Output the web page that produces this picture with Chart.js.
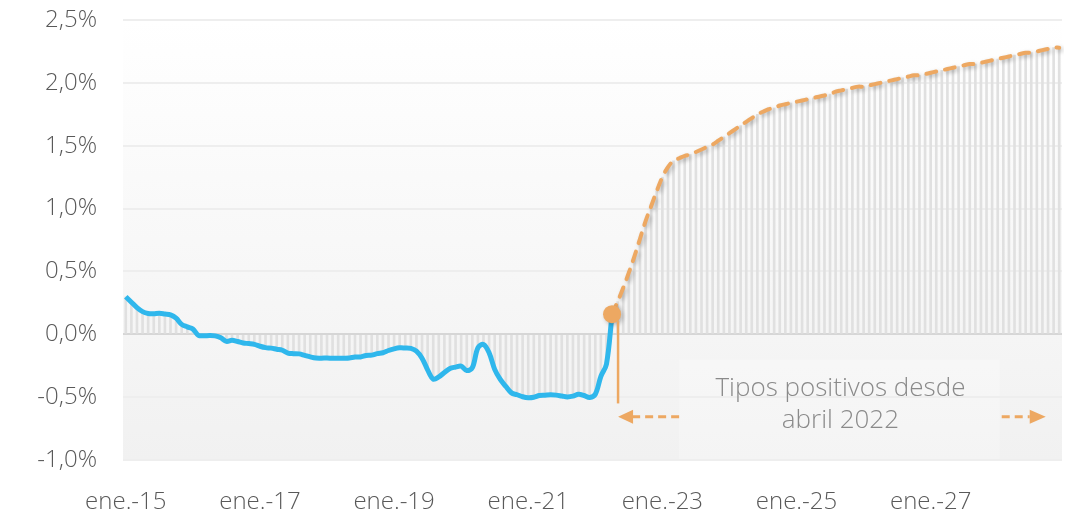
<!DOCTYPE html>
<html>
<head>
<meta charset="utf-8">
<script src="https://cdn.jsdelivr.net/npm/chart.js@4"></script>
<style>
  body { margin: 0; background: #fff; }
  #wrap { width: 1074px; height: 512px; }
</style>
</head>
<body>
<div id="wrap"><canvas id="myChart"></canvas></div>
<script>
// euribor-like series, monthly from ene.-15
const monthNames = ['ene.', 'feb.', 'mar.', 'abr.', 'may.', 'jun.', 'jul.', 'ago.', 'sept.', 'oct.', 'nov.', 'dic.'];
const firstYear = 2015;
const lastYear = 2028;

// ene.-15 .. abr.-22
const historico = [
    0.298, 0.255, 0.212, 0.180, 0.165, 0.163, 0.167, 0.161, 0.154, 0.128, 0.079, 0.059,
    0.042, -0.008, -0.012, -0.010, -0.013, -0.028, -0.056, -0.048, -0.057, -0.069, -0.074, -0.080,
    -0.095, -0.106, -0.110, -0.119, -0.127, -0.149, -0.154, -0.156, -0.168, -0.180, -0.189, -0.190,
    -0.189, -0.191, -0.191, -0.190, -0.188, -0.181, -0.180, -0.169, -0.166, -0.154, -0.147, -0.129,
    -0.116, -0.108, -0.109, -0.112, -0.134, -0.190, -0.283, -0.356, -0.339, -0.304, -0.272, -0.261,
    -0.253, -0.288, -0.266, -0.108, -0.081, -0.147, -0.279, -0.359, -0.415, -0.466, -0.481, -0.497,
    -0.505, -0.501, -0.487, -0.484, -0.481, -0.484, -0.491, -0.498, -0.492, -0.477, -0.487, -0.502,
    -0.477, -0.335, -0.237, 0.16
];

// abr.-22 .. dic.-28
const prevision = [
    0.16, 0.26, 0.37, 0.49, 0.62, 0.76, 0.90, 1.02, 1.14, 1.25, 1.33, 1.38,
    1.40, 1.42, 1.43, 1.45, 1.47, 1.49, 1.51, 1.54, 1.57, 1.60, 1.63, 1.66,
    1.69, 1.72, 1.75, 1.77, 1.79, 1.80, 1.82, 1.83, 1.84, 1.85, 1.86, 1.87,
    1.88, 1.89, 1.90, 1.91, 1.93, 1.94, 1.95, 1.96, 1.97, 1.97, 1.98, 1.99,
    2.00, 2.01, 2.02, 2.03, 2.04, 2.05, 2.06, 2.06, 2.07, 2.08, 2.09, 2.10,
    2.11, 2.12, 2.13, 2.14, 2.15, 2.15, 2.16, 2.17, 2.18, 2.19, 2.20, 2.21,
    2.22, 2.23, 2.24, 2.24, 2.25, 2.26, 2.27, 2.28, 2.28
];

const yTicks = [-1.0, -0.5, 0.0, 0.5, 1.0, 1.5, 2.0, 2.5];
const annotText = ['Tipos positivos desde', 'abril 2022'];

var labels = [];
for (var y = firstYear; y <= lastYear; y++) {
    for (var m = 0; m < 12; m++) labels.push(monthNames[m] + '-' + String(y).slice(2));
}
const splitIdx = historico.length - 1; // abr.-22
const barras = historico.slice(0, splitIdx).concat(prevision);
const lineaHist = historico.concat(Array(labels.length - historico.length).fill(null));
const lineaPrev = Array(splitIdx).fill(null).concat(prevision);

const FONT = "'Open Sans', 'Segoe UI', sans-serif";
const ORANGE = '#eda862';

const fondo = {
    id: 'fondo',
    beforeDraw(chart) {
        const a = chart.chartArea, c = chart.ctx;
        const g = c.createLinearGradient(0, a.top, 0, a.bottom);
        g.addColorStop(0, '#ffffff');
        g.addColorStop(1, '#f1f1f1');
        c.save();
        c.fillStyle = g;
        c.fillRect(a.left, a.top, a.right - a.left, a.bottom - a.top);
        // caja del texto
        const xs = chart.scales.x, ys = chart.scales.y;
        const x0 = xs.getPixelForValue(99), x1 = xs.getPixelForValue(156) + 2;
        const yt = ys.getPixelForValue(-0.2);
        c.fillStyle = 'rgba(255,255,255,0.25)';
        c.fillRect(x0, yt, x1 - x0, a.bottom - yt);
        c.restore();
    }
};

const anotacion = {
    id: 'anotacion',
    beforeDatasetDraw(chart, args) {
        if (args.index === 1) {
            const c = chart.ctx;
            c.save();
            c.shadowColor = 'rgba(0,0,0,0.25)';
            c.shadowBlur = 4;
            c.shadowOffsetX = 2;
            c.shadowOffsetY = 2;
        }
    },
    afterDatasetDraw(chart, args) {
        if (args.index === 1) chart.ctx.restore();
    },
    afterDatasetsDraw(chart) {
        const c = chart.ctx, xs = chart.scales.x, ys = chart.scales.y;
        const xd = xs.getPixelForValue(splitIdx);
        const ya = ys.getPixelForValue(-0.656);
        c.save();
        // linea vertical
        c.strokeStyle = ORANGE;
        c.lineWidth = 2.5;
        c.beginPath();
        c.moveTo(xd + 6, ys.getPixelForValue(prevision[0]) + 7);
        c.lineTo(xd + 6, ys.getPixelForValue(-0.55));
        c.stroke();
        // flechas
        const x0 = xs.getPixelForValue(99), x1 = xs.getPixelForValue(156) + 4;
        c.lineWidth = 3;
        c.setLineDash([8, 5]);
        c.beginPath();
        c.moveTo(x0, ya); c.lineTo(xd + 20, ya);
        c.moveTo(x1, ya); c.lineTo(x1 + 28, ya);
        c.stroke();
        c.setLineDash([]);
        c.fillStyle = ORANGE;
        c.beginPath();
        c.moveTo(xd + 6, ya); c.lineTo(xd + 21, ya - 7); c.lineTo(xd + 21, ya + 7); c.closePath();
        c.moveTo(x1 + 44, ya); c.lineTo(x1 + 28, ya - 7); c.lineTo(x1 + 28, ya + 7); c.closePath();
        c.fill();
        // texto
        c.fillStyle = '#8a8a8a';
        c.font = '300 26px ' + FONT;
        c.textAlign = 'center';
        c.textBaseline = 'middle';
        const xm = (x0 + x1) / 2;
        c.fillText(annotText[0], xm, ys.getPixelForValue(-0.43));
        c.fillText(annotText[1], xm, ys.getPixelForValue(-0.69));
        c.restore();
    }
};

const ctx = document.getElementById('myChart').getContext('2d');
const myChart = new Chart(ctx, {
    type: 'bar',
    data: {
        labels: labels,
        datasets: [
            {
                type: 'line', label: 'Histórico', data: lineaHist, order: 1,
                borderColor: '#2fb7ec', borderWidth: 5, pointRadius: 0,
                tension: 0.35, spanGaps: false
            },
            {
                type: 'line', label: 'Previsión', data: lineaPrev, order: 0,
                borderColor: ORANGE, borderWidth: 4, borderDash: [10, 9], borderCapStyle: 'round',
                pointRadius: (c) => c.dataIndex === splitIdx ? 9 : 0,
                pointBackgroundColor: ORANGE, pointBorderWidth: 0, tension: 0.35
            },
            {
                type: 'bar', label: 'barras', data: barras, order: 5,
                backgroundColor: '#e0e0e0', barThickness: 2
            }
        ]
    },
    options: {
        responsive: true,
        maintainAspectRatio: false,
        animation: false,
        layout: { padding: { top: 20, right: 12, left: 0, bottom: 0 } },
        plugins: { legend: { display: false }, tooltip: { enabled: false } },
        scales: {
            x: {
                grid: { display: false },
                border: { display: false },
                afterFit: (s) => { s.height = 52; s.paddingLeft = 0; s.paddingRight = 0; },
                ticks: {
                    autoSkip: false, maxRotation: 0, padding: 20,
                    color: '#595959', font: { family: FONT, size: 24, weight: 300 },
                    callback: (v, i) => i % 24 === 0 ? labels[i] : null
                }
            },
            y: {
                min: yTicks[0], max: yTicks[yTicks.length - 1],
                afterFit: (s) => { s.width = 123; s.paddingTop = 0; s.paddingBottom = 0; },
                afterBuildTicks: (s) => { s.ticks = yTicks.map(v => ({ value: v })); },
                border: { display: false },
                grid: {
                    drawTicks: false,
                    color: (c) => c.tick && c.tick.value === 0 ? '#d6d6d6' : '#eeeeee',
                    lineWidth: 2
                },
                ticks: {
                    padding: 26, color: '#595959', font: { family: FONT, size: 24, weight: 300 },
                    callback: (v) => v.toFixed(1).replace('.', ',') + '%'
                }
            }
        }
    },
    plugins: [fondo, anotacion]
});
</script>
</body>
</html>
